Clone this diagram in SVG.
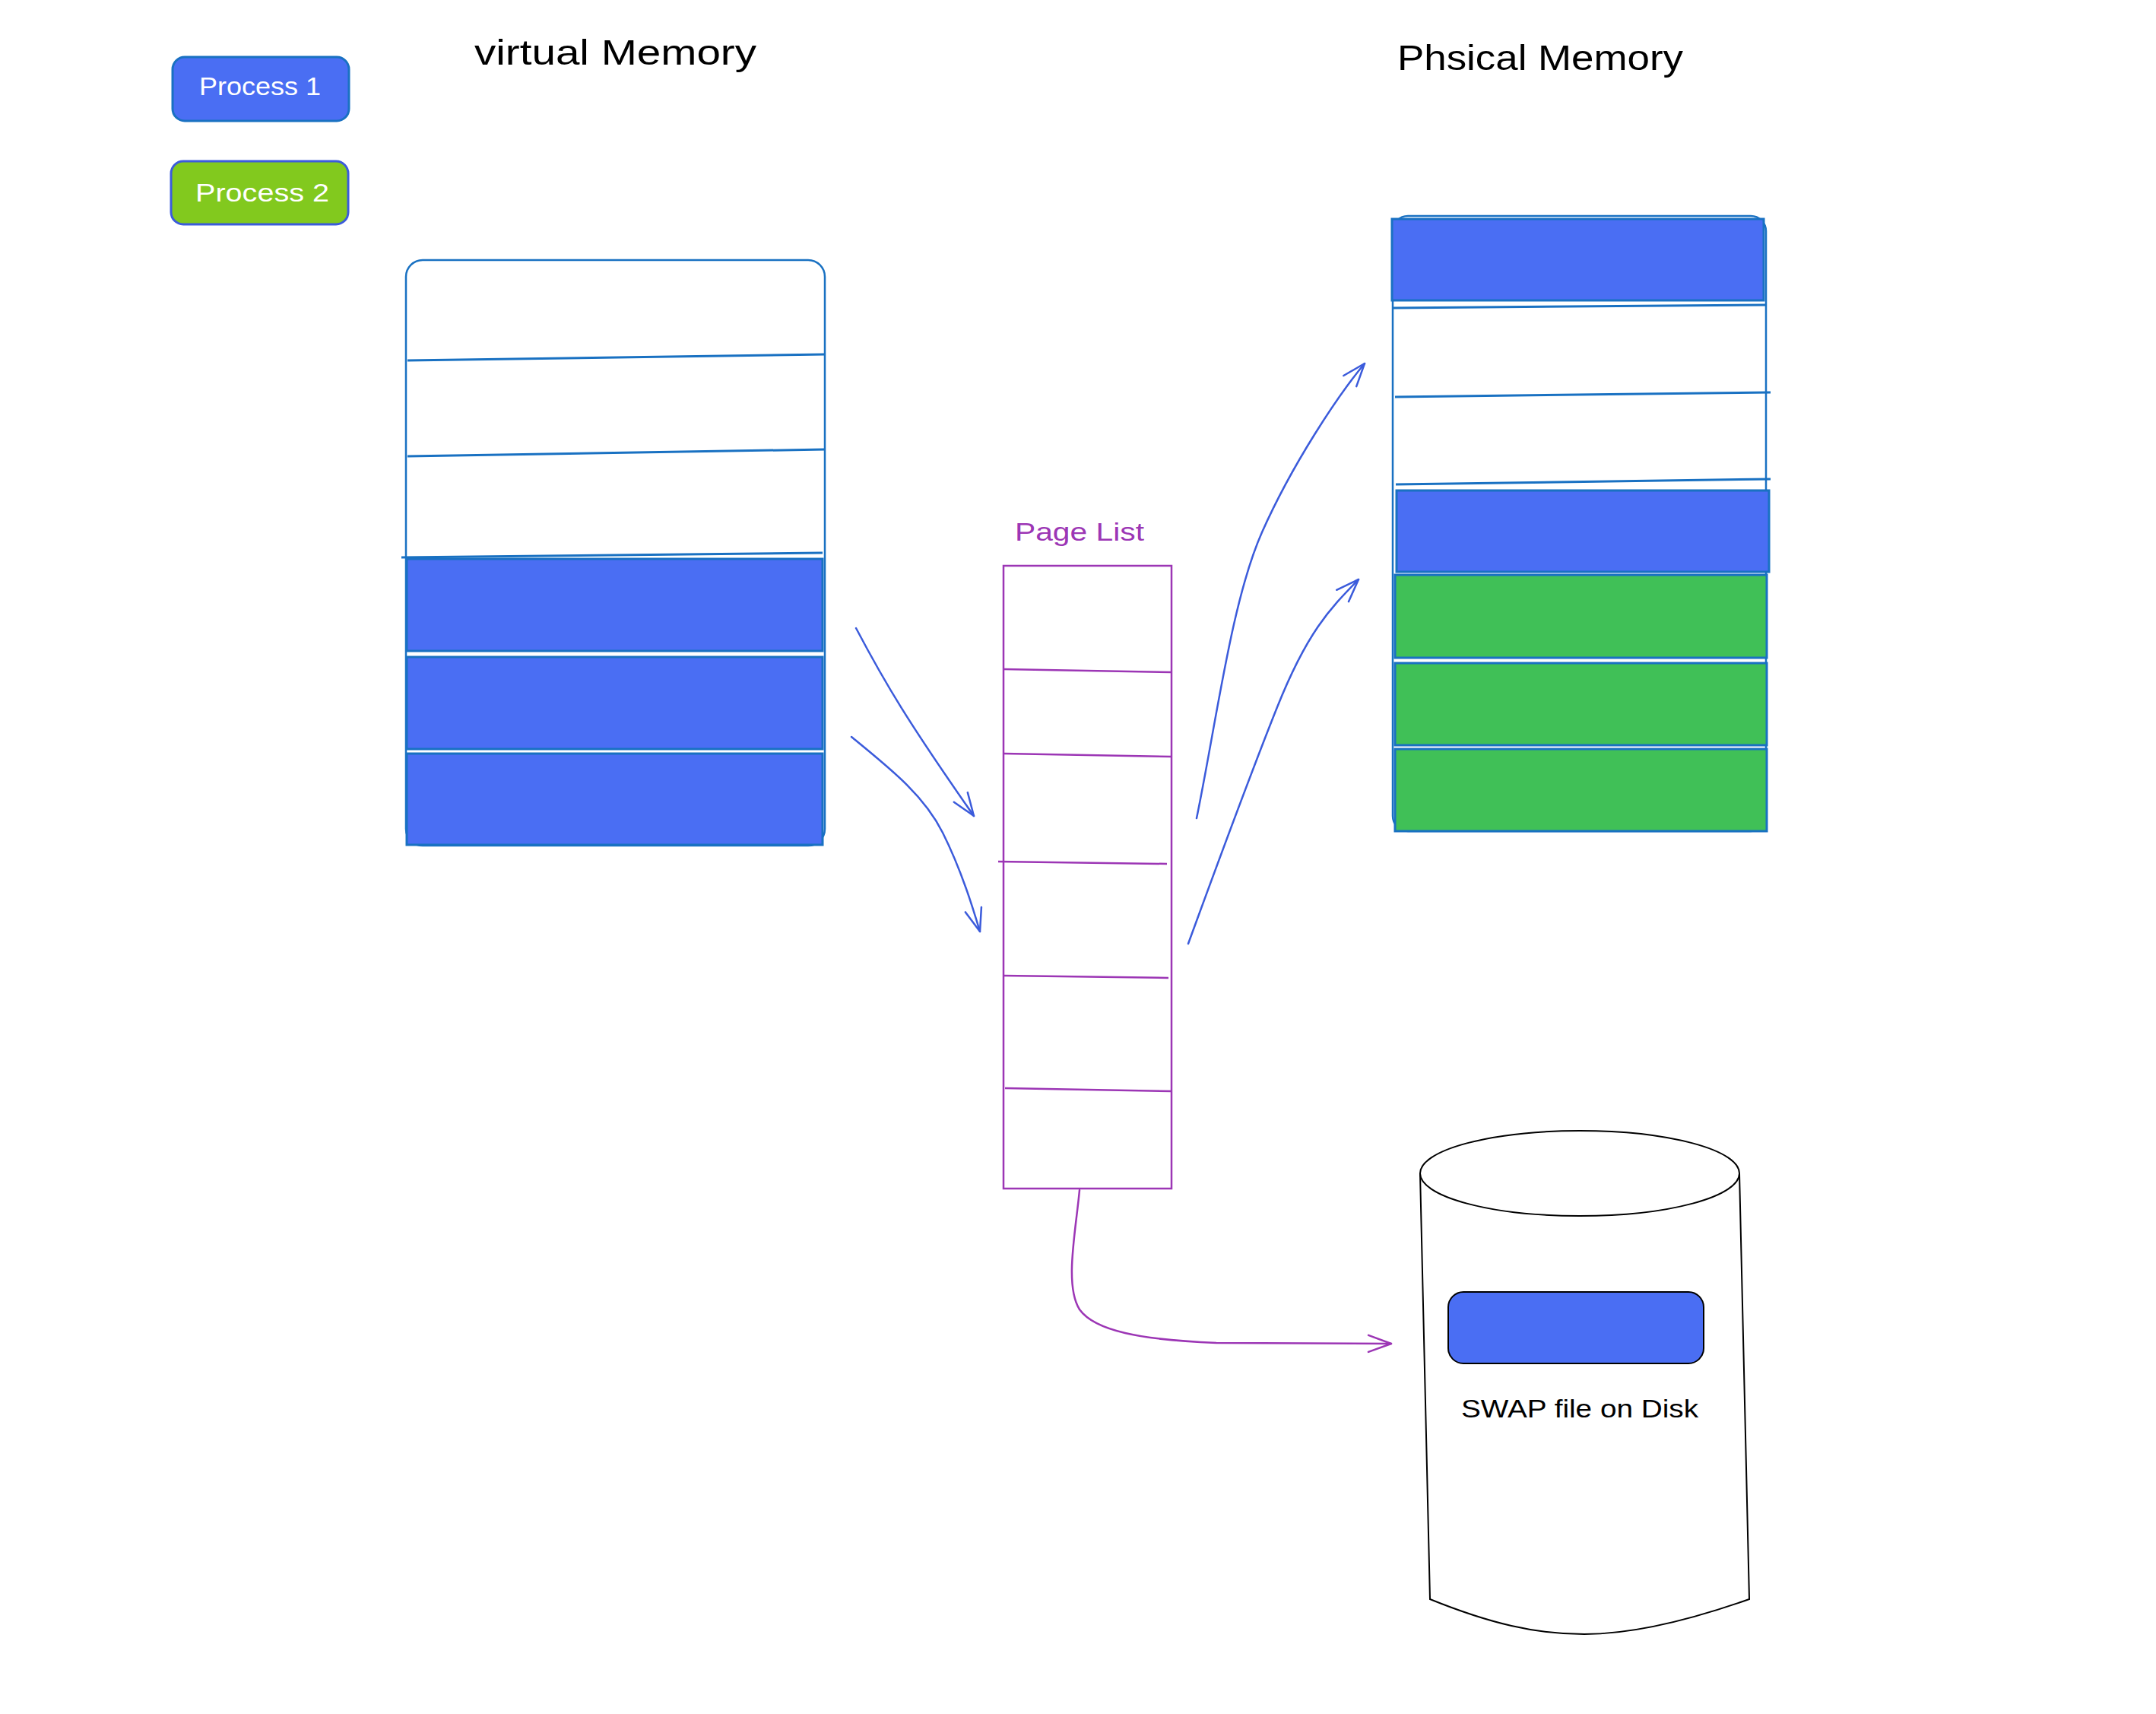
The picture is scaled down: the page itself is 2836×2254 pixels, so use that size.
<svg xmlns="http://www.w3.org/2000/svg" width="2836" height="2254" viewBox="0 0 2836 2254">
<style>
.hand{font-family:"Liberation Sans","DejaVu Sans",sans-serif}
.title{font-size:46px;fill:#000}
.btn{font-size:33px;fill:#fff}
.mem{fill:#fff;stroke:#1971c2;stroke-width:2.5}
.sep{stroke:#1971c2;stroke-width:3;fill:none}
.blue{fill:#4a6ef3;stroke:#1971c2;stroke-width:3}
.green{fill:#40c057;stroke:#1971c2;stroke-width:3}
.pl{fill:#fff;stroke:#9c36b5;stroke-width:2.5}
.plsep{stroke:#9c36b5;stroke-width:2.5;fill:none}
.arr{fill:none;stroke:#3b5bdb;stroke-width:2.5;stroke-linecap:round}
.arrp{fill:none;stroke:#9c36b5;stroke-width:2.5;stroke-linecap:round}
</style>
<defs>
<marker id="hb" markerUnits="userSpaceOnUse" orient="auto" refX="0" refY="0" markerWidth="40" markerHeight="40" overflow="visible">
<path d="M-30,-11 L0,0 L-30,11" fill="none" stroke="#3b5bdb" stroke-width="2.5" stroke-linecap="round" stroke-linejoin="round"/>
</marker>
<marker id="hp" markerUnits="userSpaceOnUse" orient="auto" refX="0" refY="0" markerWidth="40" markerHeight="40" overflow="visible">
<path d="M-30,-11 L0,0 L-30,11" fill="none" stroke="#9c36b5" stroke-width="2.5" stroke-linecap="round" stroke-linejoin="round"/>
</marker>
</defs>
<rect width="2836" height="2254" fill="#fff"/>

<g id="legend-process1">
<rect x="227" y="75" width="232" height="84" rx="16" fill="#4a6ef3" stroke="#1971c2" stroke-width="3"/>
<text class="hand btn" x="262" y="125" textLength="160" lengthAdjust="spacingAndGlyphs">Process 1</text>
</g>
<g id="legend-process2">
<rect x="225" y="212" width="233" height="83" rx="16" fill="#82c91e" stroke="#3b5bdb" stroke-width="3"/>
<text class="hand btn" x="257" y="265" textLength="176" lengthAdjust="spacingAndGlyphs">Process 2</text>
</g>

<g id="title-virtual">
<text class="hand title" x="624" y="85" textLength="371" lengthAdjust="spacingAndGlyphs">virtual Memory</text>
</g>
<g id="title-physical">
<text class="hand title" x="1838" y="92" textLength="376" lengthAdjust="spacingAndGlyphs">Phsical Memory</text>
</g>

<g id="virtual-memory">
<rect class="mem" x="534" y="342" width="551" height="770" rx="22"/>
<path class="sep" d="M536 474 L1085 466"/>
<path class="sep" d="M536 600 L1085 591"/>
<path class="sep" d="M528 733 L1082 727"/>
<rect class="blue" x="535" y="735" width="547" height="121"/>
<rect class="blue" x="535" y="864" width="547" height="121"/>
<rect class="blue" x="535" y="991" width="547" height="120"/>
</g>

<g id="physical-memory">
<rect class="mem" x="1832" y="284" width="491" height="809" rx="20"/>
<path class="sep" d="M1832 405 L2323 401"/>
<path class="sep" d="M1835 522 L2329 516"/>
<path class="sep" d="M1836 637 L2329 630"/>
<rect class="blue" x="1831" y="288" width="489" height="107"/>
<rect class="blue" x="1837" y="645" width="490" height="107"/>
<rect class="green" x="1835" y="756" width="489" height="109"/>
<rect class="green" x="1835" y="872" width="489" height="108"/>
<rect class="green" x="1835" y="985" width="489" height="108"/>
</g>

<g id="page-list">
<text class="hand" x="1335" y="711" font-size="34" fill="#9c36b5" textLength="170" lengthAdjust="spacingAndGlyphs">Page List</text>
<rect class="pl" x="1320" y="744" width="221" height="819"/>
<path class="plsep" d="M1320 880 L1541 884"/>
<path class="plsep" d="M1321 991 L1541 995"/>
<path class="plsep" d="M1313 1133 L1535 1136"/>
<path class="plsep" d="M1320 1283 L1537 1286"/>
<path class="plsep" d="M1322 1431 L1541 1435"/>
</g>

<g id="swap-disk">
<path d="M1868 1543 L1881 2103 C1960 2135 2020 2149 2084 2149 C2150 2149 2230 2128 2301 2103 L2288 1543" fill="#fff" stroke="#000" stroke-width="2"/>
<ellipse cx="2078" cy="1543" rx="210" ry="56" fill="#fff" stroke="#000" stroke-width="2"/>
<rect x="1905" y="1699" width="336" height="94" rx="20" fill="#4a6ef3" stroke="#000" stroke-width="2"/>
<text class="hand" x="1922" y="1864" font-size="34" fill="#000" textLength="312" lengthAdjust="spacingAndGlyphs">SWAP file on Disk</text>
</g>

<g id="connectors">
<path class="arr" d="M1126 826 C1165 900 1195 950 1281 1073" marker-end="url(#hb)"/>
<path class="arr" d="M1120 969 C1170 1010 1215 1045 1240 1095 S1280 1195 1289 1225" marker-end="url(#hb)"/>
<path class="arr" d="M1574 1076 C1600 950 1620 790 1660 700 S1760 520 1795 478" marker-end="url(#hb)"/>
<path class="arr" d="M1563 1241 C1600 1140 1640 1030 1680 930 S1750 800 1787 762" marker-end="url(#hb)"/>
<path class="arrp" d="M1420 1565 C1415 1620 1400 1690 1420 1722 C1440 1750 1500 1762 1600 1766 L1830 1767" marker-end="url(#hp)"/>
</g>
</svg>
